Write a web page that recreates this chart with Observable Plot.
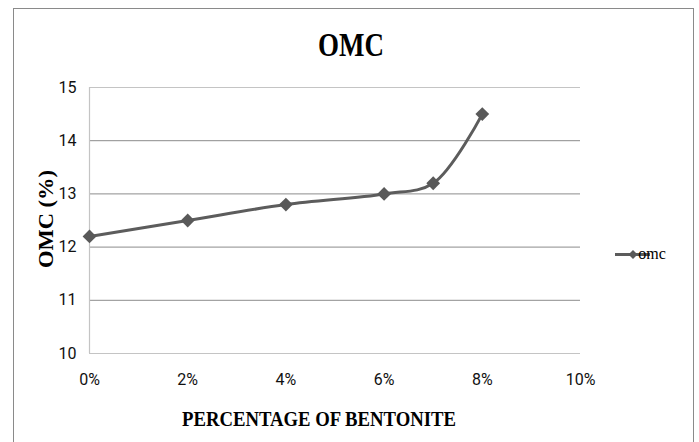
<!DOCTYPE html>
<html>
<head>
<meta charset="utf-8">
<script src="https://cdn.jsdelivr.net/npm/d3@7"></script>
<script src="https://cdn.jsdelivr.net/npm/@observablehq/plot@0.6"></script>
<style>
  html, body { margin: 0; padding: 0; background: #fff; }
  #wrap { position: relative; width: 699px; height: 442px; overflow: hidden; background: #fff; }
  #border { position: absolute; left: 13px; top: 8px; width: 681px; height: 470px; border: 1px solid #8a8a8a; box-sizing: border-box; }
  #chart { position: absolute; left: 0; top: 0; }
  .serif { font-family: "Liberation Serif", "Times New Roman", serif !important; }
</style>
</head>
<body>
<div id="wrap">
  <div id="border"></div>
  <div id="chart"></div>
</div>
<script>
// Data
const bentonite = [0, 0.02, 0.04, 0.06, 0.07, 0.08];
const omc = [12.2, 12.5, 12.8, 13.0, 13.2, 14.5];
const xTicks = [0, 0.02, 0.04, 0.06, 0.08, 0.10];
const yTicks = [10, 11, 12, 13, 14, 15];
const innerGrid = [11, 12, 13, 14];
const edgeGrid = [10, 15];
const seriesName = "omc";
const titleText = "OMC";
const xLabel = "PERCENTAGE OF BENTONITE";
const yLabel = "OMC (%)";

const data = bentonite.map((x, i) => ({x, y: omc[i]}));
const lineColor = "#5c5c5c";
const tickFont = "'Liberation Sans Narrow', 'Roboto', sans-serif";

const plot = Plot.plot({
  width: 699,
  height: 442,
  marginLeft: 89,
  marginRight: 119,
  marginTop: 87,
  marginBottom: 89,
  style: {fontFamily: tickFont, fontSize: "16px", color: "#111", background: "transparent"},
  x: {domain: [0, 0.10], ticks: xTicks, tickFormat: d3.format(".0%")},
  y: {domain: [10, 15], ticks: yTicks, tickFormat: d3.format("d")},
  marks: [
    Plot.ruleY(innerGrid, {stroke: "#8c8c8c", strokeWidth: 1}),
    Plot.ruleY(edgeGrid, {stroke: "#c4c4c4", strokeWidth: 1.2}),
    Plot.ruleX([0], {stroke: "#c4c4c4", strokeWidth: 1.2}),
    Plot.axisX({ticks: xTicks, tickFormat: d3.format(".0%"), tickSize: 0, tickPadding: 20, label: null}),
    Plot.axisY({ticks: yTicks, tickFormat: d3.format("d"), tickSize: 0, tickPadding: 13, label: null}),
    Plot.line(data, {x: "x", y: "y", curve: "catmull-rom", stroke: lineColor, strokeWidth: 3}),
    Plot.dot(data, {x: "x", y: "y", symbol: "square", rotate: 45, r: 5.5, fill: "#595959", stroke: "none"})
  ]
});
document.getElementById("chart").appendChild(plot);

// Title, axis titles and legend
const svg = d3.select(plot);
const g = svg.append("g").attr("class", "serif").style("fill", "#000");
g.append("text").text(titleText).attr("class", "serif")
  .attr("x", 351).attr("y", 56).attr("text-anchor", "middle")
  .style("font-size", "34px").style("font-weight", "bold")
  .attr("textLength", 66).attr("lengthAdjust", "spacingAndGlyphs");
g.append("text").text(xLabel).attr("class", "serif")
  .attr("x", 319).attr("y", 426).attr("text-anchor", "middle")
  .style("font-size", "20px").style("font-weight", "bold")
  .attr("textLength", 274).attr("lengthAdjust", "spacingAndGlyphs");
g.append("text").text(yLabel).attr("class", "serif")
  .attr("transform", "translate(53,219) rotate(-90)").attr("text-anchor", "middle")
  .style("font-size", "22px").style("font-weight", "bold")
  .attr("textLength", 98).attr("lengthAdjust", "spacingAndGlyphs");

const leg = svg.append("g");
leg.append("line").attr("x1", 615).attr("x2", 650).attr("y1", 254.5).attr("y2", 254.5)
  .attr("stroke", lineColor).attr("stroke-width", 3);
leg.append("path").attr("d", d3.symbol(d3.symbolSquare, 40)())
  .attr("transform", "translate(633,254.5) rotate(45)").attr("fill", "#595959");
leg.append("text").text(seriesName).attr("class", "serif")
  .attr("x", 652).attr("y", 259)
  .style("font-size", "16px").style("fill", "#000");
</script>
</body>
</html>
